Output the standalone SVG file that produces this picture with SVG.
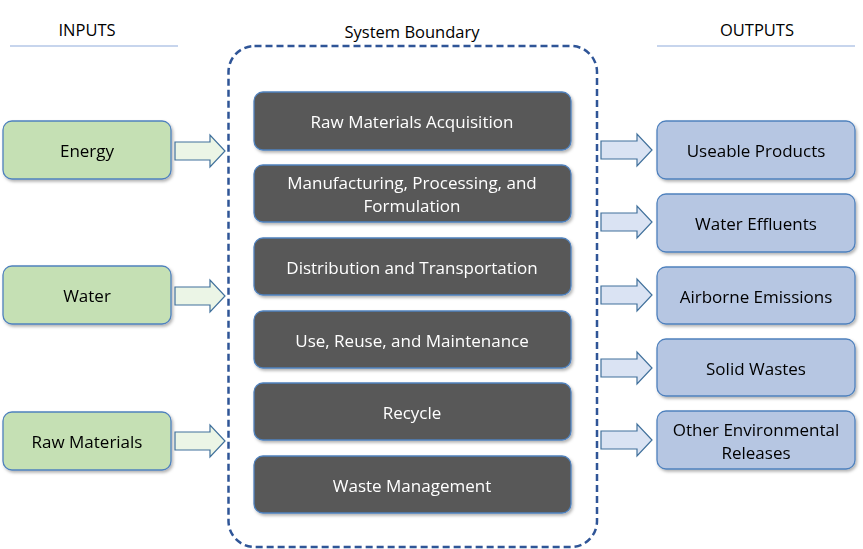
<svg xmlns="http://www.w3.org/2000/svg" width="863" height="549" viewBox="0 0 863 549">
<defs>
<filter id="sh" x="-10%" y="-20%" width="120%" height="150%"><feDropShadow dx="1.5" dy="2" stdDeviation="1.5" flood-color="#000" flood-opacity="0.3"/></filter>
<style>
text{font-family:"Open Sans","Liberation Sans",Arial,sans-serif;font-size:17px;text-anchor:middle;dominant-baseline:central}
.hdr{fill:#000;font-size:16.5px}
.rule{stroke:#b4c7e7;stroke-width:1.3}
.in rect{fill:#c5e0b4;stroke:#4f81bd;stroke-width:1.3}
.mid rect{fill:#595959;stroke:#4f81bd;stroke-width:1.3}
.mid text{fill:#fff}
.out rect{fill:#b6c6e2;stroke:#4f81bd;stroke-width:1.3}
.ain{fill:#ebf5e6;stroke:#41719c;stroke-width:1.2}
.aout{fill:#dae3f3;stroke:#41719c;stroke-width:1.2}
</style>
</defs>
<rect width="863" height="549" fill="#fff"/>
<text class="hdr" x="87" y="29">INPUTS</text>
<line class="rule" x1="10" y1="46" x2="178" y2="46"/>
<text class="hdr" x="412" y="31">System Boundary</text>
<text class="hdr" x="757" y="29">OUTPUTS</text>
<line class="rule" x1="657" y1="46" x2="855" y2="46"/>
<rect id="boundary" x="228.5" y="46" width="368.5" height="501" rx="26" fill="none" stroke="#2f5597" stroke-width="2.5" stroke-dasharray="7,4"/>
<g id="in-energy" class="in" filter="url(#sh)"><rect x="3" y="121" width="168" height="58" rx="9"/><text x="87" y="150">Energy</text></g>
<g id="in-water" class="in" filter="url(#sh)"><rect x="3" y="266" width="168" height="58" rx="9"/><text x="87" y="295">Water</text></g>
<g id="in-raw" class="in" filter="url(#sh)"><rect x="3" y="412" width="168" height="58" rx="9"/><text x="87" y="441">Raw Materials</text></g>
<g id="s1" class="mid" filter="url(#sh)"><rect x="254" y="92" width="317" height="58" rx="9"/><text x="412" y="121">Raw Materials Acquisition</text></g>
<g id="s2" class="mid" filter="url(#sh)"><rect x="254" y="165" width="317" height="57" rx="9"/><text x="412" y="182">Manufacturing, Processing, and</text><text x="412" y="205">Formulation</text></g>
<g id="s3" class="mid" filter="url(#sh)"><rect x="254" y="238" width="317" height="57" rx="9"/><text x="412" y="267">Distribution and Transportation</text></g>
<g id="s4" class="mid" filter="url(#sh)"><rect x="254" y="311" width="317" height="57" rx="9"/><text x="412" y="340">Use, Reuse, and Maintenance</text></g>
<g id="s5" class="mid" filter="url(#sh)"><rect x="254" y="383" width="317" height="57" rx="9"/><text x="412" y="412">Recycle</text></g>
<g id="s6" class="mid" filter="url(#sh)"><rect x="254" y="456" width="317" height="57" rx="9"/><text x="412" y="485">Waste Management</text></g>
<g id="o1" class="out" filter="url(#sh)"><rect x="657" y="121" width="198" height="58" rx="9"/><text x="756" y="150">Useable Products</text></g>
<g id="o2" class="out" filter="url(#sh)"><rect x="657" y="194" width="198" height="58" rx="9"/><text x="756" y="223">Water Effluents</text></g>
<g id="o3" class="out" filter="url(#sh)"><rect x="657" y="267" width="198" height="57" rx="9"/><text x="756" y="296">Airborne Emissions</text></g>
<g id="o4" class="out" filter="url(#sh)"><rect x="657" y="339" width="198" height="57" rx="9"/><text x="756" y="368">Solid Wastes</text></g>
<g id="o5" class="out" filter="url(#sh)"><rect x="657" y="411" width="198" height="58" rx="9"/><text x="756" y="429">Other Environmental</text><text x="756" y="452">Releases</text></g>
<g id="connectors">
<path class="ain" d="M175,142 H210 V135 L225,151 L210,167 V160 H175 Z"/>
<path class="ain" d="M175,287 H210 V280 L225,296 L210,312 V305 H175 Z"/>
<path class="ain" d="M175,432 H210 V425 L225,441 L210,457 V450 H175 Z"/>
<path class="aout" d="M601,141 H637 V134 L652,150 L637,166 V159 H601 Z"/>
<path class="aout" d="M601,213 H637 V206 L652,222 L637,238 V231 H601 Z"/>
<path class="aout" d="M601,286 H637 V279 L652,295 L637,311 V304 H601 Z"/>
<path class="aout" d="M601,359 H637 V352 L652,368 L637,384 V377 H601 Z"/>
<path class="aout" d="M601,431 H637 V424 L652,440 L637,456 V449 H601 Z"/>
</g>
</svg>
